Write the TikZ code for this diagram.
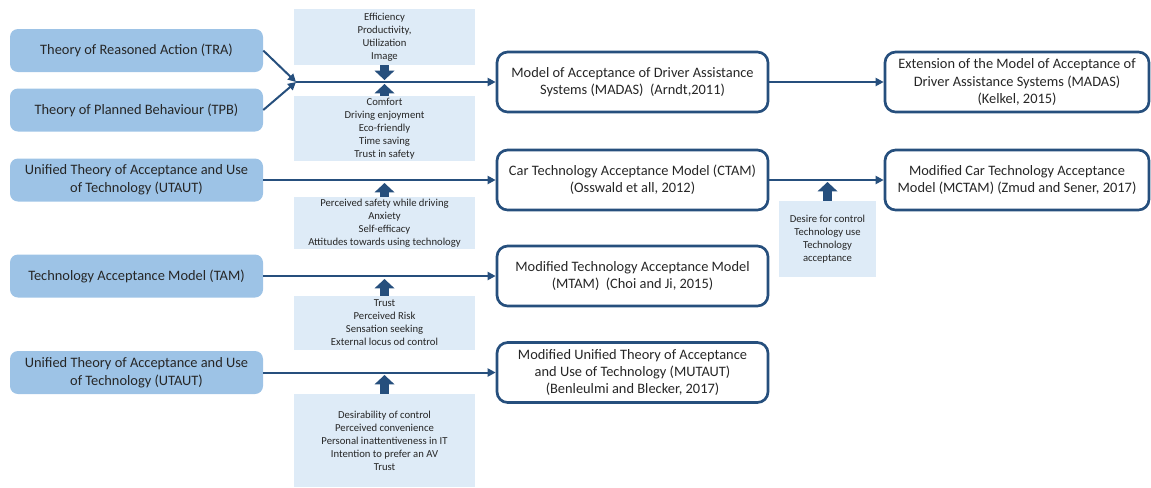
\documentclass[tikz,border=0pt]{standalone}
\usepackage{fontspec}
\setmainfont{Carlito}
\usetikzlibrary{arrows.meta}
\definecolor{theoryblue}{RGB}{157,195,230}
\definecolor{factorblue}{RGB}{222,235,247}
\definecolor{linkblue}{RGB}{38,79,125}
\definecolor{textgrey}{RGB}{38,38,38}

\begin{document}
\begin{tikzpicture}[x=0.75pt, y=-0.75pt,
    theory/.style={fill=theoryblue, rounded corners=6pt, minimum width=189.75pt,
        minimum height=32.25pt, inner sep=0pt, align=center, text=textgrey,
        font=\fontsize{10.8}{13.5}\selectfont},
    model/.style={draw=linkblue, line width=2pt, fill=white, rounded corners=8pt,
        minimum height=45pt, inner sep=0pt, align=center, text=textgrey,
        font=\fontsize{10.8}{12.8}\selectfont},
    factor/.style={fill=factorblue, minimum width=135.75pt, inner sep=0pt,
        align=center, text=textgrey, font=\fontsize{8}{9.75}\selectfont},
    flow/.style={draw=linkblue, line width=1.5pt, -{Triangle[length=6pt,width=6pt]}},
    blockarrow/.style={draw=linkblue, line width=6.75pt,
        -{Triangle[length=7pt,width=15pt,line width=0pt]}}]
    \useasboundingbox (0,0) rectangle (1151,487);

    % theories on the left
    \node[theory] (tra) at (136.5,50.5) {Theory of Reasoned Action (TRA)};
    \node[theory] (tpb) at (136.5,110) {Theory of Planned Behaviour (TPB)};
    \node[theory] (utaut) at (136.5,180) {Unified Theory of Acceptance and Use\\of Technology (UTAUT)};
    \node[theory] (tam) at (136.5,276) {Technology Acceptance Model (TAM)};
    \node[theory] (utautb) at (136.5,372.5) {Unified Theory of Acceptance and Use\\of Technology (UTAUT)};

    % added factors
    \node[factor, minimum height=42pt] (fa) at (384.5,37) {Efficiency\\Productivity,\\Utilization\\Image};
    \node[factor, minimum height=48.75pt] (fb) at (384.5,128.5) {Comfort\\Driving enjoyment\\Eco-friendly\\Time saving\\Trust in safety};
    \node[factor, minimum height=39pt] (fc) at (384.5,223) {Perceived safety while driving\\Anxiety\\Self-efficacy\\Attitudes towards using  technology};
    \node[factor, minimum height=40.5pt] (fd) at (384.5,323) {Trust\\Perceived Risk\\Sensation seeking\\External locus od control};
    \node[factor, minimum height=69.75pt] (fe) at (384.5,440.5) {Desirability of control\\Perceived convenience\\Personal inattentiveness in IT\\Intention to prefer an AV\\Trust};
    \node[factor, minimum width=72.75pt, minimum height=57pt] (ff) at (827.5,239) {Desire for control\\Technology use\\Technology\\acceptance};

    % resulting models
    \node[model, minimum width=203.25pt] (madas) at (632.5,82) {Model of Acceptance of Driver Assistance\\Systems (MADAS)\ \ (Arndt,2011)};
    \node[model, minimum width=203.25pt] (ctam) at (632.5,180) {Car Technology Acceptance Model (CTAM)\\(Osswald et all, 2012)};
    \node[model, minimum width=203.25pt] (mtam) at (632.5,276) {Modified Technology Acceptance Model\\(MTAM)\ \ (Choi and Ji, 2015)};
    \node[model, minimum width=203.25pt] (mutaut) at (632.5,372.5) {Modified Unified Theory of Acceptance\\and Use of Technology (MUTAUT)\\(Benleulmi and Blecker, 2017)};
    \node[model, minimum width=198pt] (emadas) at (1017,82) {Extension of the Model of Acceptance of\\Driver Assistance Systems (MADAS)\\(Kelkel, 2015)};
    \node[model, minimum width=198pt] (mctam) at (1017,180) {Modified Car Technology Acceptance\\Model (MCTAM) (Zmud and Sener, 2017)};

    \coordinate (join) at (296,82);
    \draw[flow] (tra.east) -- (join);
    \draw[flow] (tpb.east) -- (join);
    \draw[flow] (join) -- (madas.west);
    \draw[flow] (madas.east) -- (emadas.west);
    \draw[flow] (utaut.east) -- (ctam.west);
    \draw[flow] (ctam.east) -- (mctam.west);
    \draw[flow] (tam.east) -- (mtam.west);
    \draw[flow] (utautb.east) -- (mutaut.west);

    % factor arrows onto the lines
    \coordinate (ha) at (384.5,80);
    \coordinate (hb) at (384.5,84);
    \coordinate (hc) at (384.5,183);
    \coordinate (hd) at (384.5,279);
    \coordinate (he) at (384.5,375);
    \coordinate (hf) at (827.5,182);
    \draw[blockarrow] (fa.south) -- (ha);
    \draw[blockarrow] (fb.north) -- (hb);
    \draw[blockarrow] (fc.north) -- (hc);
    \draw[blockarrow] (fd.north) -- (hd);
    \draw[blockarrow] (fe.north) -- (he);
    \draw[blockarrow] (ff.north) -- (hf);
\end{tikzpicture}
\end{document}
